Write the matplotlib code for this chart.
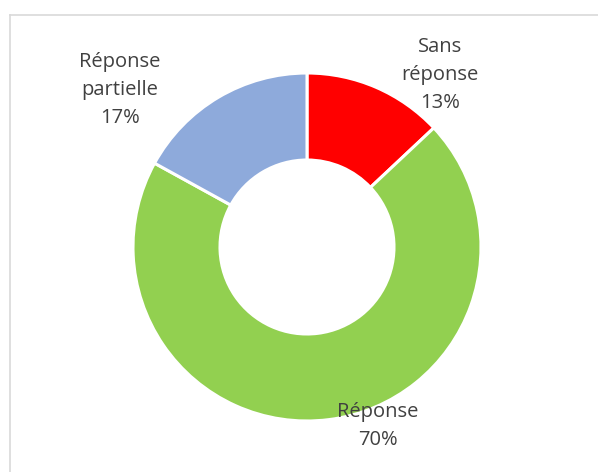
import matplotlib.pyplot as plt

labels = ["Sans\nréponse", "Réponse", "Réponse\npartielle"]
values = [13, 70, 17]
colors = ["#ff0000", "#92d050", "#8eaadb"]

W, H = 598, 472
fig = plt.figure(figsize=(W / 100, H / 100), dpi=100)
ax = fig.add_axes([0, 0, 1, 1])

cx, cy, r = 307, H - 247, 174
ax.pie(values, colors=colors, startangle=90, counterclock=False,
       center=(cx, cy), radius=r,
       wedgeprops=dict(width=r * 0.5, edgecolor="white", linewidth=2.2))
ax.set_xlim(0, W)
ax.set_ylim(0, H)
ax.set_aspect("equal")
ax.axis("off")

# label positions (pixels, top-left origin)
label_pos = [(440, 75), (378, 426), (120, 90)]
for lab, v, (x, y) in zip(labels, values, label_pos):
    ax.text(x, H - y, f"{lab}\n{v}%", ha="center", va="center",
            fontsize=14.5, color="#404040", family="Open Sans",
            linespacing=1.52)

# chart frame (only left/top visible)
fig.add_artist(plt.Line2D([9.5 / W, 9.5 / W], [0, 1 - 14.5 / H],
                          transform=fig.transFigure, color="#d9d9d9", lw=1.2))
fig.add_artist(plt.Line2D([9.5 / W, 1], [1 - 14.5 / H, 1 - 14.5 / H],
                          transform=fig.transFigure, color="#d9d9d9", lw=1.2))

fig.savefig("out.png", dpi=100)
